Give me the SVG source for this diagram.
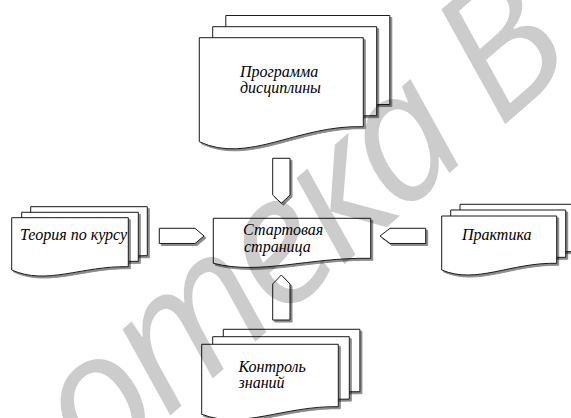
<svg xmlns="http://www.w3.org/2000/svg" width="571" height="418" viewBox="0 0 571 418">
<defs>
<filter id="sh" x="-10%" y="-10%" width="130%" height="130%">
<feDropShadow dx="2" dy="2" stdDeviation="0.7" flood-color="#000" flood-opacity="0.45"/>
</filter>
</defs>
<style>
.pg{fill:#fff;stroke:#1a1a1a;stroke-width:1;filter:url(#sh)}
.ar{fill:#fff;stroke:#1a1a1a;stroke-width:1;filter:url(#sh)}
.lb{font-family:'Liberation Serif','Times New Roman',serif;font-style:italic;font-size:16px;fill:#000}
.wm{font-family:'Open Sans','Noto Sans','Liberation Sans',sans-serif;font-style:italic;font-size:180px;letter-spacing:-8px;fill:#000;fill-opacity:0.2}
</style>
<rect width="571" height="418" fill="#fff"/>
<g id="node-programma">
<path class="pg" d="M225.8,15.5 h164 v89 c-66,-2 -115,38 -164,15 z"/>
<path class="pg" d="M212.7,26.7 h164 v89 c-66,-2 -115,38 -164,15 z"/>
<path class="pg" d="M199.3,37.7 h164 v89 c-66,-2 -115,38 -164,15 z"/>
<text class="lb" x="240" y="76.5">Программа</text>
<text class="lb" x="240" y="93">дисциплины</text>
</g>
<g id="node-teoriya">
<path class="pg" d="M30.7,206.7 h116.6 v49 c-46.6,-1 -81.6,19 -116.6,3.3 z"/>
<path class="pg" d="M21.7,212.3 h116.6 v49 c-46.6,-1 -81.6,19 -116.6,3.3 z"/>
<path class="pg" d="M11.7,217.7 h116.6 v49 c-46.6,-1 -81.6,19 -116.6,3.3 z"/>
<text class="lb" x="20" y="240">Теория по курсу</text>
</g>
<g id="node-start">
<path class="pg" d="M213.3,218.3 h157.4 v40 c-63,-1 -110,17 -157.4,5 z"/>
<text class="lb" x="243" y="235">Стартовая</text>
<text class="lb" x="244" y="251.7">страница</text>
</g>
<g id="node-praktika">
<path class="pg" d="M460,204.3 h115 v47.3 c-46,-1 -80.5,21.4 -115,6.7 z"/>
<path class="pg" d="M450.7,210 h115 v47.3 c-46,-1 -80.5,21.4 -115,6.7 z"/>
<path class="pg" d="M441.7,216 h115 v47.3 c-46,-1 -80.5,21.4 -115,6.7 z"/>
<text class="lb" x="462" y="240">Практика</text>
</g>
<g id="node-kontrol">
<path class="pg" d="M223.3,329.3 h136.6 v62.4 c-54.6,-1 -95.6,23.2 -136.6,7.6 z"/>
<path class="pg" d="M212.7,336.7 h136.6 v62.4 c-54.6,-1 -95.6,23.2 -136.6,7.6 z"/>
<path class="pg" d="M201.7,344.3 h136.6 v62.4 c-54.6,-1 -95.6,23.2 -136.6,7.6 z"/>
<text class="lb" x="238.5" y="371.5">Контроль</text>
<text class="lb" x="238.5" y="388">знаний</text>
</g>
<g id="connectors">
<path class="ar" d="M272.7,158.3 H290 V195 L281.3,203.3 L272.7,195 Z"/>
<path class="ar" d="M272.7,320 V284 L281.3,275 L290,284 V320 Z"/>
<path class="ar" d="M159.3,228.3 H195 L204,236 L195,243.5 H159.3 Z"/>
<path class="ar" d="M425.7,228.3 H390 L380,236 L390,243.5 H425.7 Z"/>
</g>
<text class="wm" transform="translate(96,480) rotate(-41)">отека В</text>
</svg>
